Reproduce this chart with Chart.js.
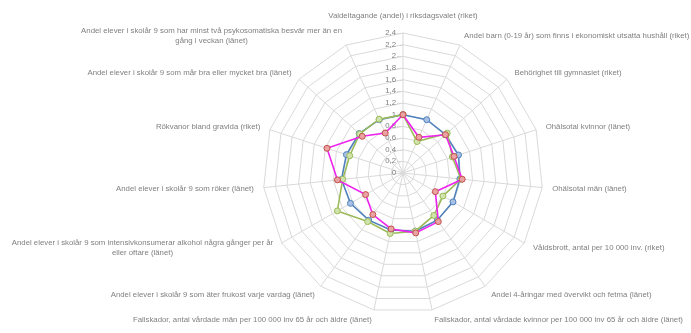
<!DOCTYPE html>
<html>
<head>
<meta charset="utf-8">
<script src="https://cdn.jsdelivr.net/npm/chart.js@4"></script>
<style>
  html, body { margin: 0; padding: 0; background: #fff; }
  #wrap { width: 691px; height: 333px; }
</style>
</head>
<body>
<div id="wrap"><canvas id="radar"></canvas></div>
<script>
// axlar (medurs från toppen)
const kategorier = [
    'Valdeltagande (andel) i riksdagsvalet (riket)',
    'Andel barn (0-19 år) som finns i ekonomiskt utsatta hushåll (riket)',
    'Behörighet till gymnasiet (riket)',
    'Ohälsotal kvinnor (länet)',
    'Ohälsotal män (länet)',
    'Våldsbrott, antal per 10 000 inv. (riket)',
    'Andel 4-åringar med övervikt och fetma (länet)',
    'Fallskador, antal vårdade kvinnor per 100 000 inv 65 år och äldre (länet)',
    'Fallskador, antal vårdade män per 100 000 inv 65 år och äldre (länet)',
    'Andel elever i skolår 9 som äter frukost varje vardag (länet)',
    ['Andel elever i skolår 9 som intensivkonsumerar alkohol några gånger per år', 'eller oftare (länet)'],
    'Andel elever i skolår 9 som röker (länet)',
    'Rökvanor bland gravida (riket)',
    'Andel elever i skolår 9 som mår bra eller mycket bra (länet)',
    ['Andel elever i skolår 9 som har minst två psykosomatiska besvär mer än en', 'gång i veckan (länet)']
];

// serier
const blaSerie   = [1.00, 1.00, 0.98, 1.00, 0.98, 0.99, 1.00, 1.02, 1.00, 1.00, 1.04, 1.06, 1.02, 1.01, 1.00];
const gronSerie  = [1.00, 0.59, 1.02, 0.89, 1.00, 0.79, 0.90, 1.02, 1.06, 1.03, 1.30, 1.04, 0.96, 1.00, 1.01];
const rosaSerie  = [1.00, 0.67, 0.98, 0.92, 1.02, 0.64, 1.03, 1.05, 0.98, 0.88, 0.74, 1.13, 1.37, 0.94, 0.75];

// skala
const skalaMin = 0;
const skalaMax = 2.4;
const skalaSteg = 0.2;

const fontFamily = "'Liberation Sans', Arial, sans-serif";
const fontSize = 7.8;
const radHojd = 10.5;
const textColor = '#808080';
const gridColor = '#d9d9d9';

const fmt = v => String(Math.round(v * 10) / 10).replace('.', ',');

// skalans etiketter till vänster om axeln, som i Excel
const tickPlugin = {
    id: 'tickLabels',
    beforeDatasetsDraw(chart) {
        const s = chart.scales.r;
        const c = chart.ctx;
        c.save();
        c.font = fontSize + 'px ' + fontFamily;
        c.fillStyle = textColor;
        c.textAlign = 'right';
        c.textBaseline = 'middle';
        c.strokeStyle = gridColor;
        c.lineWidth = 1;
        s.ticks.forEach(t => {
            const y = s.yCenter - s.getDistanceFromCenterForValue(t.value);
            c.beginPath();
            c.moveTo(s.xCenter - 6, Math.round(y) + 0.5);
            c.lineTo(s.xCenter, Math.round(y) + 0.5);
            c.stroke();
            c.fillText(fmt(t.value), s.xCenter - 7, y);
        });
        c.restore();
    }
};

// kategorietiketter placerade utanför yttersta ringen via skalans punkter
const labelPlugin = {
    id: 'pointLabelsExcel',
    afterDraw(chart) {
        const s = chart.scales.r;
        const c = chart.ctx;
        c.save();
        c.font = fontSize + 'px ' + fontFamily;
        c.fillStyle = textColor;
        c.textAlign = 'center';
        c.textBaseline = 'middle';
        const n = kategorier.length;
        kategorier.forEach((lab, i) => {
            const p = s.getPointPosition(i, s.drawingArea + 10);
            const rader = Array.isArray(lab) ? lab : [lab];
            const bredd = Math.max(...rader.map(r => c.measureText(r).width));
            const hojd = rader.length * radHojd;
            const vinkel = i * 360 / n;
            let vanster;
            if (vinkel === 0 || vinkel === 180) vanster = p.x - bredd / 2;
            else if (vinkel < 180) vanster = p.x;
            else vanster = p.x - bredd;
            let topp = p.y - hojd / 2;
            if (vinkel === 0) topp = p.y - hojd - 2;
            rader.forEach((txt, j) => {
                c.fillText(txt, vanster + bredd / 2, topp + radHojd * j + radHojd / 2);
            });
        });
        c.restore();
    }
};

const serie = (data, line, border, fill, order) => ({
    data: data,
    borderColor: line,
    borderWidth: 1.6,
    pointBackgroundColor: fill,
    pointBorderColor: border,
    pointBorderWidth: 1,
    pointRadius: 3,
    fill: false,
    order: order
});

const ctx = document.getElementById('radar').getContext('2d');
const chart = new Chart(ctx, {
    type: 'radar',
    data: {
        labels: kategorier,
        datasets: [
            serie(blaSerie, '#4f81bd', '#4f81bd', '#a7c0e4', 3),
            serie(gronSerie, '#9bbb59', '#9bbb59', '#d0e3aa', 2),
            serie(rosaSerie, '#ee22ee', '#c0504d', '#eaa3a2', 1)
        ]
    },
    options: {
        responsive: true,
        maintainAspectRatio: false,
        animation: false,
        layout: { padding: { top: 33, bottom: 20, left: 263, right: 148 } },
        plugins: {
            legend: { display: false },
            tooltip: { enabled: false }
        },
        scales: {
            r: {
                min: skalaMin,
                max: skalaMax,
                beginAtZero: true,
                ticks: { stepSize: skalaSteg, display: false },
                grid: { color: gridColor, circular: false, lineWidth: 1 },
                angleLines: { color: gridColor, lineWidth: 1 },
                pointLabels: { display: false }
            }
        }
    },
    plugins: [tickPlugin, labelPlugin]
});
</script>
</body>
</html>
